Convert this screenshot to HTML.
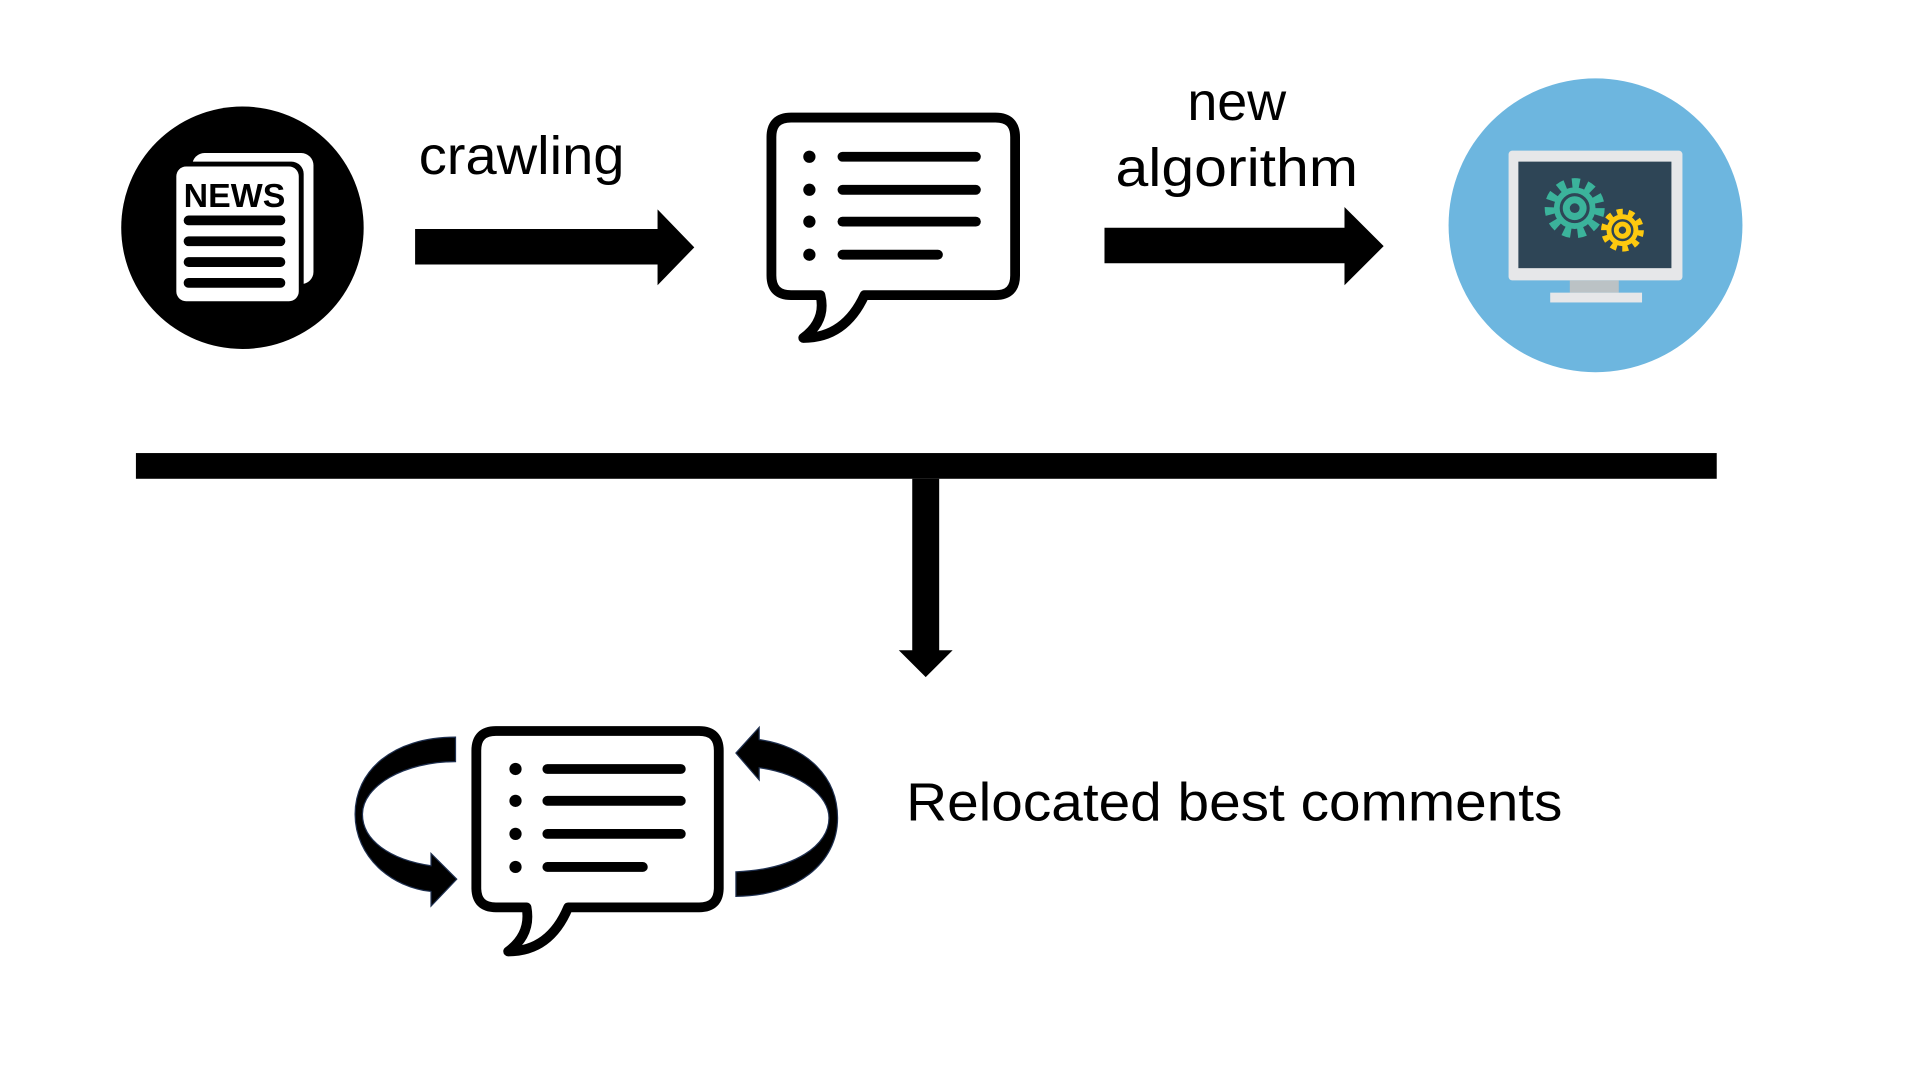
<!DOCTYPE html>
<html><head><meta charset="utf-8"><style>
html,body{margin:0;padding:0;background:#fff;width:1920px;height:1080px;overflow:hidden}
text{font-family:"Liberation Sans",sans-serif}
</style></head><body>
<svg width="1920" height="1080" viewBox="0 0 1568 882" xmlns="http://www.w3.org/2000/svg">
<rect width="1568" height="882" fill="#fff"/>
<!-- news -->
<circle cx="198" cy="186" r="99" fill="#000"/>
<rect x="157" y="125" width="99" height="107" rx="10" fill="#fff"/>
<rect x="140" y="132" width="108" height="118" rx="10" fill="#000"/>
<rect x="144" y="136" width="100" height="110" rx="8" fill="#fff"/>
<text x="150" y="169" font-size="27" font-weight="bold" fill="#000" textLength="83" lengthAdjust="spacingAndGlyphs">NEWS</text>
<g stroke="#000" stroke-width="8" stroke-linecap="round">
<line x1="154" y1="180" x2="229" y2="180"/><line x1="154" y1="197" x2="229" y2="197"/>
<line x1="154" y1="214" x2="229" y2="214"/><line x1="154" y1="231" x2="229" y2="231"/>
</g>
<text x="342" y="142" font-size="44" fill="#000" textLength="168" lengthAdjust="spacingAndGlyphs">crawling</text>
<polygon points="339,187 537,187 537,171 567,202 537,233 537,216 339,216" fill="#000"/>
<!-- bubble 1 -->
<g fill="none" stroke="#000" stroke-width="8" stroke-linejoin="round" stroke-linecap="round">
<path d="M646,96 H813 Q829,96 829,112 V225 Q829,241 813,241 H706 Q690,276 656,276 Q675,262 670,241 H646 Q630,241 630,225 V112 Q630,96 646,96 Z"/>
<line x1="688" y1="128" x2="797" y2="128"/><line x1="688" y1="155" x2="797" y2="155"/>
<line x1="688" y1="181" x2="797" y2="181"/><line x1="688" y1="208" x2="766" y2="208"/>
</g>
<g fill="#000"><circle cx="661" cy="128" r="5"/><circle cx="661" cy="155" r="5"/><circle cx="661" cy="181" r="5"/><circle cx="661" cy="208" r="5"/></g>
<text x="1010" y="98" font-size="44" text-anchor="middle" fill="#000">new</text>
<text x="1010" y="152" font-size="44" text-anchor="middle" fill="#000" textLength="198" lengthAdjust="spacingAndGlyphs">algorithm</text>
<polygon points="902,186 1098,186 1098,169 1130,201 1098,233 1098,215 902,215" fill="#000"/>
<!-- computer -->
<circle cx="1303" cy="184" r="120" fill="#6db6df"/>
<rect x="1232" y="123" width="142" height="106" rx="3" fill="#e6e7e9"/>
<rect x="1240" y="132" width="125" height="87" fill="#2e4556"/>
<rect x="1282" y="229" width="40" height="10" fill="#bbc2c5"/>
<rect x="1266" y="239" width="75" height="8" fill="#e6e7e9"/>
<circle cx="1286" cy="170" r="20" fill="none" stroke="#3bb39b" stroke-width="9" stroke-dasharray="6 5.5"/>
<circle cx="1286" cy="170" r="17" fill="#3bb39b"/>
<circle cx="1286" cy="170" r="11" fill="none" stroke="#2e4556" stroke-width="2.5"/>
<circle cx="1286" cy="170" r="4" fill="#2e4556"/>
<circle cx="1325" cy="188" r="14" fill="none" stroke="#fdc90f" stroke-width="7" stroke-dasharray="4.5 4.3"/>
<circle cx="1325" cy="188" r="13" fill="#fdc90f"/>
<circle cx="1325" cy="188" r="8" fill="none" stroke="#2e4556" stroke-width="2"/>
<circle cx="1325" cy="188" r="3" fill="#2e4556"/>
<!-- bar -->
<rect x="111" y="370" width="1291" height="21" fill="#000"/>
<polygon points="745,391 767,391 767,531 778,531 756,553 734,531 745,531" fill="#000"/>
<!-- bubble 2 -->
<g fill="none" stroke="#000" stroke-width="8" stroke-linejoin="round" stroke-linecap="round">
<path d="M405,597 H571 Q587,597 587,613 V725 Q587,741 571,741 H464 Q449,777 415,777 Q434,763 430,741 H405 Q389,741 389,725 V613 Q389,597 405,597 Z"/>
<line x1="447" y1="628" x2="556" y2="628"/><line x1="447" y1="654" x2="556" y2="654"/>
<line x1="447" y1="681" x2="556" y2="681"/><line x1="447" y1="708" x2="525" y2="708"/>
</g>
<g fill="#000"><circle cx="421" cy="628" r="5"/><circle cx="421" cy="654" r="5"/><circle cx="421" cy="681" r="5"/><circle cx="421" cy="708" r="5"/></g>
<path d="M372,602 C320,602 290,630 290,665 C290,700 320,725 352,728 L352,740 L373,718 L352,697 L352,707 C318,702 296,686 296,665 C296,642 330,622 372,622 Z" fill="#000" stroke="#1f3050" stroke-width="1"/>
<path d="M601,732 C650,732 684,705 684,668 C684,635 660,610 620,604 L620,594 L601,615 L620,637 L620,627 C655,632 677,650 677,668 C677,690 650,710 601,712 Z" fill="#000" stroke="#1f3050" stroke-width="1"/>
<text x="740" y="670" font-size="44" fill="#000" textLength="536" lengthAdjust="spacingAndGlyphs">Relocated best comments</text>
</svg>
</body></html>
